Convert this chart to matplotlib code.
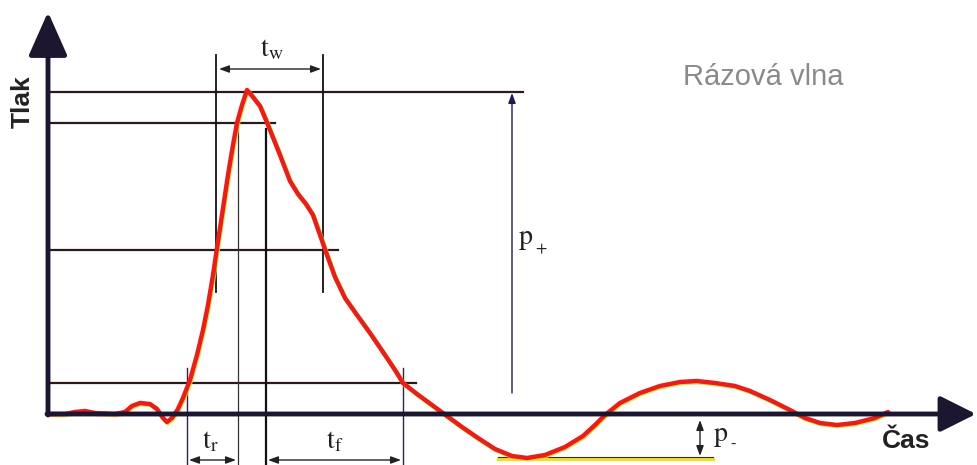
import numpy as np
import matplotlib.pyplot as plt

# shock wave pressure profile (time, pressure) - schematic units
t_wave = [2, 17, 27, 37, 47, 67, 77, 84, 92, 102, 109, 115, 119, 124, 130, 135,
          142, 149, 155, 160, 165, 169, 174, 180, 185, 189, 194, 199, 205, 212,
          218, 224, 232, 242, 250, 258, 265, 272, 279, 287, 297, 309, 322, 337,
          347, 355, 369, 384, 399, 414, 430, 447, 464, 479, 497, 517, 535, 547,
          557, 572, 592, 612, 632, 649, 667, 687, 702, 722, 742, 757, 772, 789,
          807, 827, 840]
p_wave = [0, 0, 2, 3, 1, 0, 2, 8, 11, 10, 5, -4, -8, -4, 5, 16,
          34, 59, 84, 109, 139, 166, 199, 239, 269, 291, 309, 324, 317, 308,
          294, 279, 259, 233, 220, 210, 199, 179, 159, 137, 116, 99, 81, 59,
          44, 31, 20, 9, -2, -13, -24, -35, -42, -44, -41, -33, -22, -11,
          -1, 11, 21, 28, 32, 33, 31, 28, 23, 14, 4, -4, -9, -11,
          -9, -4, 2]

# horizontal level lines: pressure, end time
levels = [322, 291, 164, 31]
level_ends = [475, 227, 290, 368]
p_minus = -44
p_minus_span = [450, 665]

# marker times
t_w = [168, 275]
t_r = [139, 190]
t_f = [218, 355]
t_pplus = 464
t_pminus = 652

dark = '#1c1630'
ink = '#222222'

plt.rcParams['mathtext.fontset'] = 'stix'
fig = plt.figure(figsize=(9.77, 4.65), dpi=100)
ax = fig.add_axes([0, 0, 1, 1])
ax.set_xlim(-48, 929)
ax.set_ylim(-51, 414)
ax.axis('off')

# axes with arrows
ax.annotate('', xy=(0, 402), xytext=(0, -1),
            arrowprops=dict(arrowstyle='-|>,head_length=1.35,head_width=0.6',
                            lw=3.5, color=dark, shrinkA=0, shrinkB=0,
                            mutation_scale=20))
ax.annotate('', xy=(928, 0), xytext=(-1, 0),
            arrowprops=dict(arrowstyle='-|>,head_length=1.1,head_width=0.55',
                            lw=3.5, color=dark, shrinkA=0, shrinkB=0,
                            mutation_scale=20))

# level lines
for p, e in zip(levels, level_ends):
    ax.plot([2, e * 0.5], [p + 1.0, p + 1.0], color='#f2e22a', lw=0.8, alpha=0.6)
    ax.plot([2, e], [p, p], color='#2a1a1a', lw=1.6)
ax.plot(p_minus_span, [p_minus - 0.5, p_minus - 0.5], color='#efe030', lw=2.5)
ax.plot(p_minus_span, [p_minus + 1, p_minus + 1], color='#3a3020', lw=0.8)

# vertical marker lines
for t in t_w:
    ax.plot([t, t], [122, 359], color='#111111', lw=1.3)
ax.plot([t_r[0], t_r[0]], [-51, 46], color='#332244', lw=1.0)
ax.plot([t_r[1], t_r[1]], [-51, 291], color='#333333', lw=0.9)
ax.plot([t_f[0], t_f[0]], [-51, 285], color='#111111', lw=1.6)
ax.plot([t_f[1], t_f[1]], [-51, 46], color='#332244', lw=1.0)

# dimension arrows
dim = dict(arrowstyle='<|-|>,head_length=0.6,head_width=0.22', lw=1.0,
           color=ink, shrinkA=0, shrinkB=0, mutation_scale=10)
ax.annotate('', xy=(t_w[0] + 3, 345), xytext=(t_w[1] - 2, 345), arrowprops=dim)
ax.annotate('', xy=(t_r[0] + 2, -46), xytext=(t_r[1] - 2, -46), arrowprops=dim)
ax.annotate('', xy=(t_f[0] + 2, -46), xytext=(t_f[1] - 2, -46), arrowprops=dim)
ax.annotate('', xy=(t_pminus, -6), xytext=(t_pminus, -42), arrowprops=dim)
ax.annotate('', xy=(t_pplus, 321), xytext=(t_pplus, 21),
            arrowprops=dict(arrowstyle='-|>,head_length=0.6,head_width=0.22',
                            lw=1.0, color='#1a1a50', shrinkA=0, shrinkB=0,
                            mutation_scale=10))

# the wave
ax.plot(np.array(t_wave) + 0.8, np.array(p_wave) - 1.0, color='#f5d020', lw=3.4,
        alpha=0.8, solid_joinstyle='round', solid_capstyle='round')
ax.plot(t_wave, p_wave, color='#e5201c', lw=3.2,
        solid_joinstyle='round', solid_capstyle='round')

# labels
ax.text(224, 366, r'$\mathrm{t_w}$', fontsize=20, ha='center', va='center', color=ink)
ax.text(162, -26, r'$\mathrm{t_r}$', fontsize=20, ha='center', va='center', color=ink)
ax.text(287, -26, r'$\mathrm{t_f}$', fontsize=20, ha='center', va='center', color=ink)
ax.text(478, 176, r'$\mathrm{p}$', fontsize=20, ha='center', va='center', color=ink)
ax.text(487, 165, '+', fontsize=12, family='STIXGeneral', ha='left', va='center', color=ink)
ax.text(673, -21, r'$\mathrm{p}$', fontsize=20, ha='center', va='center', color=ink)
ax.text(682, -31, '-', fontsize=12, family='STIXGeneral', ha='left', va='center', color=ink)

ax.text(-25, 312, 'Tlak', fontsize=19, fontweight='bold', family='Liberation Sans',
        rotation=90, ha='center', va='center', color=ink)
ax.text(858, -27, 'Čas', fontsize=19, fontweight='bold', family='Liberation Sans',
        ha='center', va='center', color=ink)
ax.text(715, 337, 'Rázová vlna', fontsize=21, family='Liberation Sans',
        ha='center', va='center', color='#8a8a8a')

fig.savefig('out.png', dpi=100)
